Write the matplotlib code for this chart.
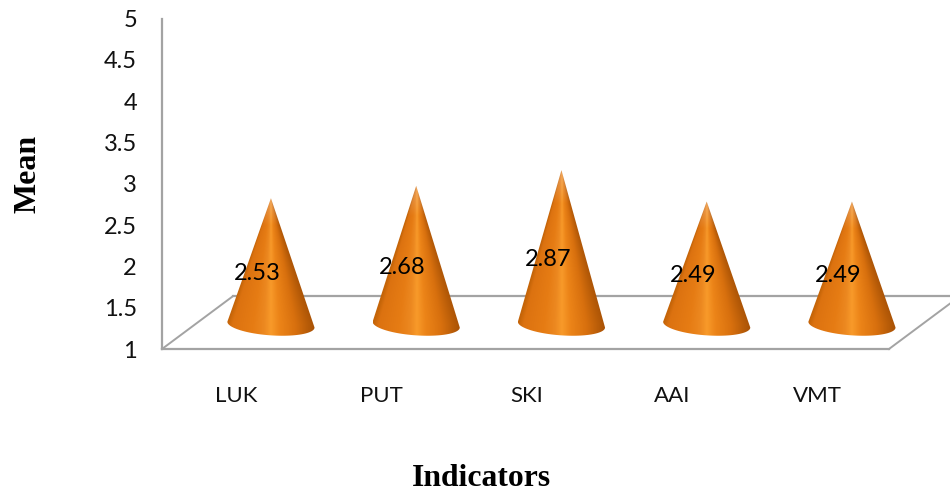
import numpy as np
import matplotlib
matplotlib.use('Agg')
import matplotlib.pyplot as plt
from matplotlib.colors import LinearSegmentedColormap
from matplotlib.patches import Polygon

categories = ['LUK', 'PUT', 'SKI', 'AAI', 'VMT']
means = [2.53, 2.68, 2.87, 2.49, 2.49]
y_ticks = [1, 1.5, 2, 2.5, 3, 3.5, 4, 4.5, 5]
y_labels = ['1', '1.5', '2', '2.5', '3', '3.5', '4', '4.5', '5']

W, H = 950, 491
GREY = '#a3a3a3'

# floor offset for the fake 3D look, in data units
depth_x = 0.489
depth_y = 0.64
base_y = 1.295      # where the cones stand on the floor
base_w = 0.30       # half width of a cone base
base_h = 0.13       # half height of the base ellipse
tilt = 0.035

cone_cmap = LinearSegmentedColormap.from_list('cone', [
    (0.00, '#c46408'),
    (0.06, '#dc7210'),
    (0.30, '#e67c14'),
    (0.42, '#ec8820'),
    (0.50, '#f89a2a'),
    (0.60, '#ec8418'),
    (0.78, '#d8700e'),
    (0.92, '#b85c08'),
    (1.00, '#a85206'),
])

fig = plt.figure(figsize=(W / 100, H / 100), dpi=100)
ax = fig.add_axes([162 / W, 1 - 349 / H, (W - 162) / W, (349 - 18.5) / H])
xmin, xfront, xmax = -0.75, 4.255, 4.675
ymin, ymax = 1, 5

# walls and floor
ax.plot([xmin, xmin], [ymin, ymax], color=GREY, lw=1.6, clip_on=False)
ax.plot([xmin, xfront], [ymin, ymin], color=GREY, lw=1.6, clip_on=False)
ax.plot([xmin, xmin + depth_x], [ymin, ymin + depth_y], color=GREY, lw=1.4, clip_on=False)
ax.plot([xfront, xfront + depth_x], [ymin, ymin + depth_y], color=GREY, lw=1.4, clip_on=False)
ax.plot([xmin + depth_x, xfront + depth_x], [ymin + depth_y] * 2, color=GREY, lw=1.6, clip_on=False)

# cones, shaded so the streaks run into the apex
for i, v in enumerate(means):
    th = np.linspace(0, -np.pi, 60)
    ex = i + base_w * np.cos(th)
    ey = base_y + base_h * np.sin(th) - tilt * np.cos(th)
    outline = np.vstack([[i, v + base_y - 1], np.column_stack([ex, ey])])

    gx = np.linspace(i - base_w, i + base_w, 260)
    gy = np.linspace(base_y - base_h - tilt, v + base_y - 1, 500)
    xx, yy = np.meshgrid(gx, gy)
    t = np.clip((v + base_y - 1 - yy) / (v - 1), 0.004, 1)
    u = np.clip((xx - i) / (base_w * t), -1, 1)
    rgb = cone_cmap((u + 1) / 2)[:, :, :3]
    # apex fades a little lighter
    fade = np.clip((0.22 - t) / 0.22, 0, 1)[:, :, None] * 0.3
    rgb = rgb * (1 - fade) + fade

    im = ax.imshow(rgb, extent=[gx[0], gx[-1], gy[0], gy[-1]], origin='lower',
                   aspect='auto', zorder=3, interpolation='bilinear')
    clip = Polygon(outline, closed=True, transform=ax.transData)
    im.set_clip_path(clip)

    ax.text(i - 0.095, base_y + (v - 1) / 2 - 0.145, f'{v:.2f}', ha='center', va='center',
            fontsize=17, family='Lato', color='black', zorder=5)

ax.set_xlim(xmin, xmax)
ax.set_ylim(ymin, ymax)
ax.patch.set_visible(False)
for s in ax.spines.values():
    s.set_visible(False)

ax.set_yticks(y_ticks)
ax.set_yticklabels(y_labels, fontsize=17, family='Lato')
ax.set_xticks([i - 0.24 for i in range(len(categories))])
ax.set_xticklabels(categories, fontsize=16, family='Lato')
ax.tick_params(axis='y', length=0, pad=18, colors='#111111')
ax.tick_params(axis='x', length=0, pad=27, colors='#111111')

fig.text(481 / W, 1 - 478 / H, 'Indicators', ha='center', va='center',
         fontsize=22.8, fontweight='bold', family='Liberation Serif')
fig.text(27.5 / W, 1 - 174 / H, 'Mean', ha='center', va='center', rotation=90,
         fontsize=23, fontweight='bold', family='Liberation Serif')

fig.savefig('out.png', dpi=100)
